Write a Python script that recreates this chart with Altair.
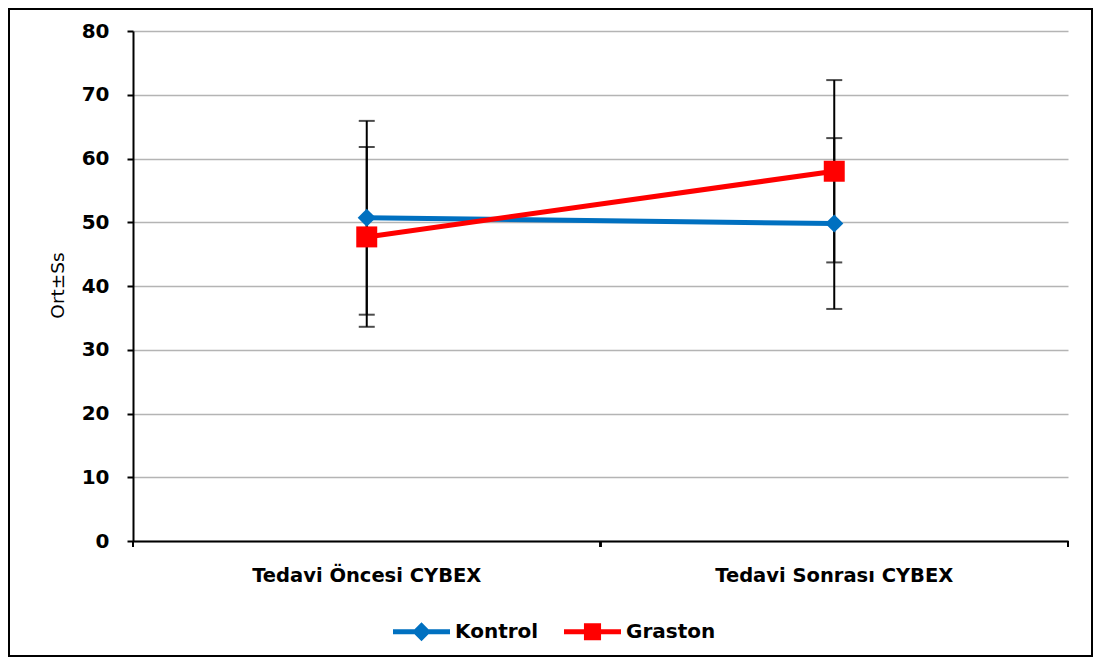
import altair as alt
import pandas as pd

categories = ["Tedavi Öncesi CYBEX", "Tedavi Sonrası CYBEX"]
series_names = ["Kontrol", "Graston"]
kontrol_mean = [50.7, 49.8]
kontrol_sd = [15.2, 13.4]
graston_mean = [47.7, 58.0]
graston_sd = [14.1, 14.3]
y_ticks = [0, 10, 20, 30, 40, 50, 60, 70, 80]
colors = ["#0070C0", "#FF0000"]

rows = []
for name, means, sds in [("Kontrol", kontrol_mean, kontrol_sd), ("Graston", graston_mean, graston_sd)]:
    for c, m, s in zip(categories, means, sds):
        rows.append({"cat": c, "series": name, "mean": m, "lo": m - s, "hi": m + s})
df = pd.DataFrame(rows)

W, H = 935, 510
FONT = "DejaVu Sans"

xenc = alt.X("cat:N", sort=categories,
             scale=alt.Scale(domain=categories, paddingInner=0, paddingOuter=0),
             axis=alt.Axis(title=None, ticks=False, labelPadding=34, labelFontSize=19.5,
                           labelFontWeight="bold", labelColor="black", labelAngle=0,
                           labelAlign="center", labelLimit=0,
                           domainColor="black", domainWidth=2, grid=False))
yscale = alt.Scale(domain=[0, 80], nice=False)
yenc = alt.Y("mean:Q", scale=yscale,
             axis=alt.Axis(values=y_ticks, title="Ort±Ss", titleFontSize=18.5,
                           titleFontWeight="normal", titleColor="black", titleFont=FONT,
                           titleAngle=270, titleX=-76, titleY=254, titleAlign="center",
                           titleBaseline="middle",
                           labelFontSize=20, labelFontWeight="bold", labelColor="black",
                           labelPadding=18, tickSize=6, tickColor="black", tickWidth=2,
                           domainColor="black", domainWidth=2,
                           gridColor="#b4b4b4", gridWidth=1.5))
color_scale = alt.Scale(domain=series_names, range=colors)

base = alt.Chart(df)

# outer frame
frame = alt.Chart(alt.Data(values=[{"a": 1}])).mark_rect(
    fill=None, stroke="black", strokeWidth=2, clip=False
).encode(x=alt.value(-124), x2=alt.value(W + 24), y=alt.value(-22), y2=alt.value(H + 115))

# x-axis tick marks at band boundaries
tick_start = base.mark_rule(color="black", strokeWidth=2).encode(
    x=alt.X("cat:N", sort=categories, bandPosition=0), y=alt.value(H), y2=alt.value(H + 6))
tick_end = base.mark_rule(color="black", strokeWidth=2).encode(
    x=alt.X("cat:N", sort=categories, bandPosition=1), y=alt.value(H), y2=alt.value(H + 6))

err = base.mark_rule(color="black", strokeWidth=2).encode(
    x=xenc, y=alt.Y("lo:Q", scale=yscale), y2="hi:Q")
cap_lo = base.mark_tick(color="black", thickness=2, size=16, orient="horizontal").encode(
    x=alt.X("cat:N", sort=categories), y=alt.Y("lo:Q", scale=yscale))
cap_hi = base.mark_tick(color="black", thickness=2, size=16, orient="horizontal").encode(
    x=alt.X("cat:N", sort=categories), y=alt.Y("hi:Q", scale=yscale))

line = base.mark_line(strokeWidth=5).encode(
    x=xenc, y=yenc,
    color=alt.Color("series:N", scale=color_scale),
    order=alt.Order("cat:N"))

pts_k = base.transform_filter(alt.datum.series == "Kontrol").mark_point(
    shape="diamond", filled=True, size=330, opacity=1).encode(
    x=alt.X("cat:N", sort=categories), y=alt.Y("mean:Q", scale=yscale),
    color=alt.Color("series:N", scale=color_scale))
pts_g = base.transform_filter(alt.datum.series == "Graston").mark_point(
    shape="square", filled=True, size=440, opacity=1).encode(
    x=alt.X("cat:N", sort=categories), y=alt.Y("mean:Q", scale=yscale),
    color=alt.Color("series:N", scale=color_scale))

glyph_k = "M-1,-0.085H1V0.085H-1Z M0,-0.33L0.33,0L0,0.33L-0.33,0Z"
glyph_g = "M-1,-0.085H1V0.085H-1Z M-0.3,-0.3H0.3V0.3H-0.3Z"

legend_layer = base.mark_point(filled=True, clip=True, size=100, opacity=1).encode(
    x=alt.X("cat:N", sort=categories), y=alt.value(-500),
    color=alt.Color("series:N", scale=color_scale,
                    legend=alt.Legend(title=None, orient="none", legendX=260, legendY=572,
                                      direction="horizontal", symbolSize=3249,
                                      symbolStrokeWidth=0, symbolOpacity=1, labelFontSize=20,
                                      labelFontWeight="bold", labelColor="black",
                                      labelFont=FONT, labelOffset=5, columnPadding=25,
                                      padding=0)),
    shape=alt.Shape("series:N", scale=alt.Scale(domain=series_names, range=[glyph_k, glyph_g])))

chart = alt.layer(frame, tick_start, tick_end, err, cap_lo, cap_hi, line, pts_k, pts_g,
                  legend_layer).properties(
    width=W, height=H,
    autosize=alt.AutoSizeParams(type="none"),
    padding={"left": 125, "top": 23, "right": 25, "bottom": 117},
).configure(font=FONT).configure_view(stroke=None).configure_axis(labelFont=FONT, titleFont=FONT)

chart.save("out.html", embed_options={"renderer": "svg", "actions": False})
